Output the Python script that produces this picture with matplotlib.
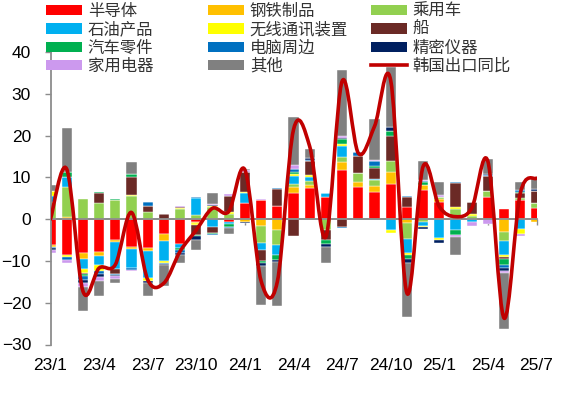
import numpy as np
import matplotlib
matplotlib.use("Agg")
import matplotlib.pyplot as plt
from matplotlib.path import Path
from matplotlib.patches import PathPatch, Patch
from matplotlib.lines import Line2D

plt.rcParams['font.family'] = ['Liberation Sans', 'DejaVu Sans']

# 23/1 ... 25/7, one value per month
tick_labels = ['23/1', '23/4', '23/7', '23/10', '24/1', '24/4', '24/7',
               '24/10', '25/1', '25/4', '25/7']

semi      = [-6.2, -8.6, -8.1, -7.8, -5.0, -6.6, -6.9, -3.5, -5.9, -0.6, 0.0,
             -0.6, 3.8, 4.6, 3.2, 6.2, 7.4, 5.3, 11.8, 7.8, 6.6, 8.5,
             2.8, 7.0, 4.0, 0.0, 0.0, 5.3, 2.5, 4.5, 2.6]
steel     = [-0.5, 0.6, -1.4, -1.0, -0.5, -0.6, -0.8, -1.7, 0.0, -0.4, 0.0,
             0.0, -0.6, -1.6, -2.7, 1.4, 0.8, 0.0, 1.9, 1.0, 1.4, 2.7,
             -1.0, 1.2, 0.8, 0.0, 0.0, 0.0, -3.0, 0.0, -0.8]
car       = [4.1, 7.0, 4.9, 3.9, 4.7, 5.5, 1.8, 0.0, 2.5, 1.0, 2.9,
             1.3, 0.0, -4.0, -3.4, 0.9, 1.0, -2.6, 1.1, 2.2, 1.3, 2.6,
             -3.8, -0.8, 0.6, 2.4, 0.8, 1.4, -2.2, 0.6, 1.2]
oil       = [1.4, 2.5, -2.4, -2.2, -6.4, -4.5, -6.4, -4.9, -1.0, 4.1, -1.8,
             -0.6, 2.4, -1.8, -2.6, 1.8, 1.0, 1.0, 2.7, 0.0, 0.3, -2.7,
             -3.2, -0.8, -4.5, -2.7, -0.8, 0.0, -3.3, -2.3, 0.0]
wireless  = [1.2, -0.4, -1.0, -1.4, 0.0, 0.2, -0.8, -0.4, 0.2, -0.4, 0.3,
             0.5, 0.4, 0.0, 0.0, 0.4, 0.4, 0.0, 0.5, 0.0, 0.0, -0.6,
             -0.6, -0.3, -0.6, 0.4, 0.5, 0.0, -0.6, -1.2, 0.0]
ship      = [0.0, 0.0, -0.2, 2.4, -1.3, 4.4, 1.4, 1.3, 0.3, -2.4, -1.4,
             3.8, 4.8, -2.6, 4.0, -4.0, 3.2, -2.4, -1.8, 4.0, 2.6, 6.0,
             2.6, 0.0, 0.0, 5.8, 2.9, 3.6, -0.5, 1.2, 3.0]
parts     = [0.0, 1.2, -0.5, 0.3, 0.2, 0.8, 0.0, 0.0, -0.6, -0.3, -0.3,
             -0.6, 0.0, -0.6, -1.0, 0.6, 0.0, -1.0, 1.2, 0.0, 0.6, 1.4,
             -0.9, 0.6, 0.0, -1.0, 0.0, 0.0, -1.4, 0.2, 0.0]
computer  = [-0.3, -0.8, -1.0, -0.8, -0.2, -0.4, 0.8, -0.2, -0.6, 0.2, -0.2,
             -0.4, 0.0, 0.0, 0.2, 0.6, 0.3, 0.0, -0.2, 1.0, 1.0, 0.0,
             0.2, 0.4, 0.0, 0.4, 0.0, 0.3, -0.8, 0.4, 0.0]
precision = [-0.3, 0.0, -0.6, -0.6, -0.3, 0.0, -0.4, -0.3, -0.6, -0.8, 0.3,
             0.0, -0.3, -0.5, -0.6, 0.2, 0.6, -0.6, 0.3, 0.0, 0.0, 0.8,
             -1.0, -0.5, -0.7, 0.0, 0.0, 0.3, -0.6, 0.0, 0.3]
appliance = [-0.9, -0.8, -1.0, -1.0, -0.6, -0.2, 0.0, 0.0, 0.2, 0.0, 0.2,
             0.3, 0.3, 0.2, 0.0, 0.8, 0.0, 0.0, 0.4, 0.0, 0.4, 0.0,
             0.0, 0.2, 0.4, -0.6, -0.8, -1.1, -0.6, -0.5, 0.0]
other     = [1.4, 10.6, -5.7, -3.7, -1.1, 2.8, -3.2, -5.0, -1.8, -2.6, 2.6,
             -1.4, 0.3, -9.5, -10.5, 11.6, 2.2, -3.8, 15.8, 0.0, 9.7, 14.5,
             -12.8, 4.5, 3.2, -4.2, 0.0, 3.5, -13.2, 2.0, 3.0]
export_yoy = [0.0, 12.0, -17.2, -11.7, -10.9, 1.6, -14.5, -15.3, -7.7, -2.6, 2.6,
              1.8, 11.8, -14.8, -15.0, 21.4, 17.4, -4.2, 33.0, 15.8, 22.2, 33.2,
              -17.7, 12.6, 3.0, 0.6, 2.6, 13.8, -23.7, 6.2, 9.8]

series = [
    ('半导体', '#FF0000', semi),
    ('钢铁制品', '#FFC000', steel),
    ('乘用车', '#92D050', car),
    ('石油产品', '#00B0F0', oil),
    ('无线通讯装置', '#FFFF00', wireless),
    ('船', '#6B2A26', ship),
    ('汽车零件', '#00B050', parts),
    ('电脑周边', '#0070C0', computer),
    ('精密仪器', '#002060', precision),
    ('家用电器', '#CC99EE', appliance),
    ('其他', '#808080', other),
]
line_name = '韩国出口同比'
line_color = '#C00000'
gray = '#8C8C8C'

W, H = 567, 396
fig = plt.figure(figsize=(W / 100, H / 100), dpi=100)
ax = fig.add_axes([50.5 / W, 51.5 / H, 486 / W, 292.5 / H])

x = np.arange(len(semi))
pos_b = np.zeros(len(x))
neg_b = np.zeros(len(x))
for name, color, vals in series:
    v = np.array(vals, dtype=float)
    bottom = np.where(v >= 0, pos_b, neg_b)
    ax.bar(x, v, bottom=bottom, width=0.62, color=color,
           edgecolor='white', linewidth=0.3, zorder=2)
    pos_b += np.clip(v, 0, None)
    neg_b += np.clip(v, None, 0)

# smoothed line (bezier through the monthly points, like a spreadsheet "smooth line")
y = np.array(export_yoy)
pts = np.column_stack([x, y])
ext = np.vstack([pts[0], pts, pts[-1]])
verts = [pts[0]]
codes = [Path.MOVETO]
for i in range(len(pts) - 1):
    p0, p1, p2, p3 = ext[i], ext[i + 1], ext[i + 2], ext[i + 3]
    verts += [p1 + (p2 - p0) / 6, p2 - (p3 - p1) / 6, p2]
    codes += [Path.CURVE4] * 3
ax.add_patch(PathPatch(Path(verts, codes), facecolor='none', edgecolor=line_color,
                       lw=2.6, zorder=4, capstyle='round', joinstyle='round'))

ymin, ymax = -30, 40
ax.set_xlim(0, len(x) - 1)
ax.set_ylim(ymin, ymax)
ax.set_yticks(range(-30, 41, 10))

ax.axhline(0, color=gray, lw=1.3, zorder=3)
sec = ax.secondary_xaxis((0 - ymin) / (ymax - ymin))
sec.set_xticks(x[::3])
sec.tick_params(axis='x', direction='out', length=4, width=1.0, color=gray,
                labelbottom=False, labeltop=False)
sec.spines['bottom'].set_color(gray)
sec.spines['bottom'].set_linewidth(1.3)

ax.set_xticks(x[::3])
ax.set_xticklabels(tick_labels, fontsize=12.5)
ax.tick_params(axis='x', length=0, pad=9.5)
ax.tick_params(axis='y', direction='out', length=4, width=1.0, color=gray,
               labelsize=12.5, pad=10)

for s in ['top', 'right', 'bottom']:
    ax.spines[s].set_visible(False)
ax.spines['left'].set_color(gray)
ax.spines['left'].set_linewidth(1.3)

# legend: three columns placed like the original
handles = [Patch(facecolor=c, edgecolor='none') for _, c, _ in series]
handles.append(Line2D([], [], color=line_color, lw=2.6))
labels = [n for n, _, _ in series] + [line_name]
col_x = [46, 208, 371]
for k in range(3):
    idx = [k, k + 3, k + 6, k + 9]
    leg = fig.legend([handles[i] for i in idx], [labels[i] for i in idx],
                     loc='upper left', bbox_to_anchor=(col_x[k] / W, 1 - 3 / H),
                     frameon=False, ncol=1, borderpad=0, borderaxespad=0,
                     handlelength=2.2, handleheight=0.6, handletextpad=0.35,
                     labelspacing=0.08,
                     prop={'family': ['Noto Sans CJK SC', 'DejaVu Sans'], 'size': 11.8})
    for t in leg.get_texts():
        t.set_color('#333333')

fig.savefig('out.png', dpi=100)
